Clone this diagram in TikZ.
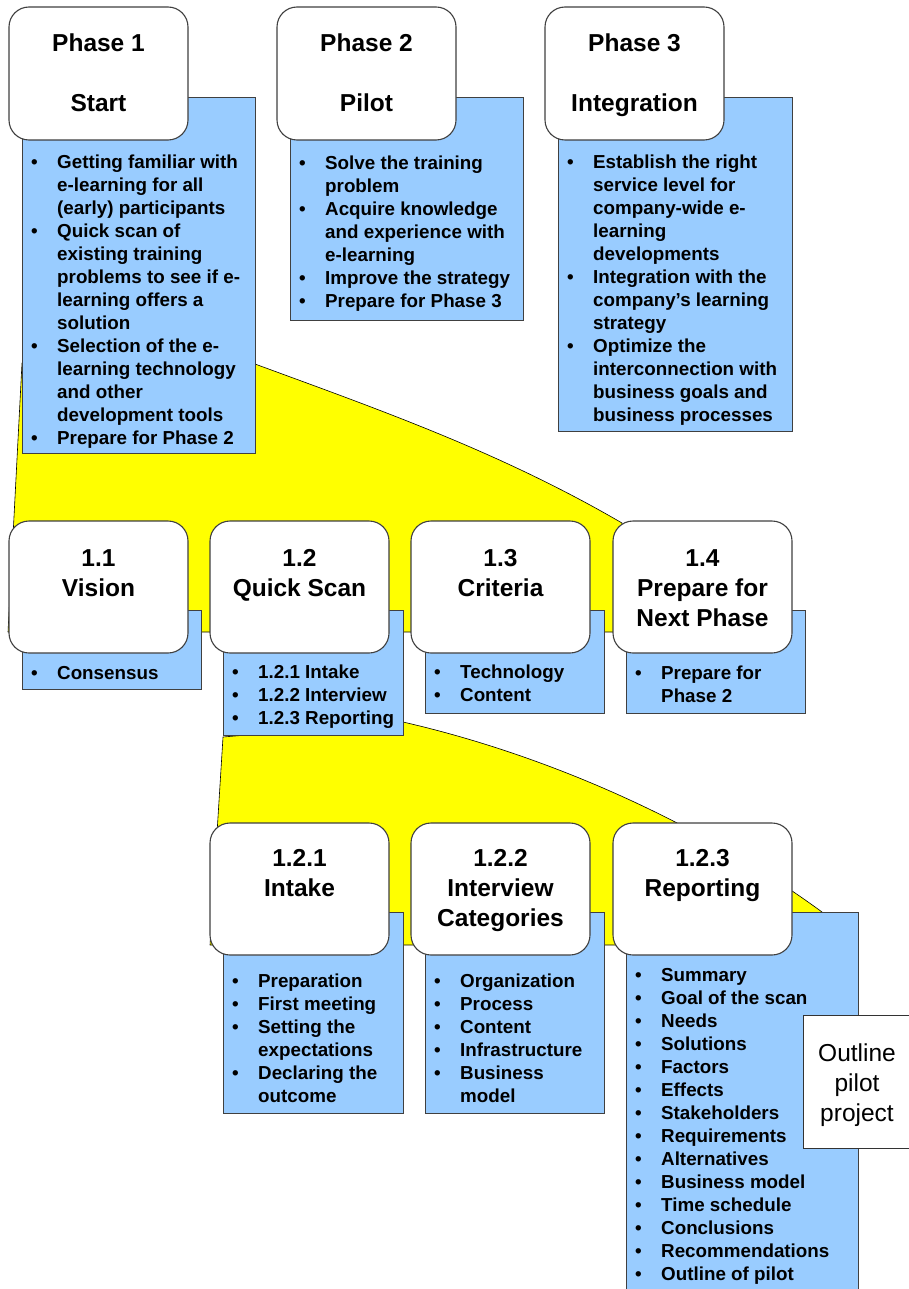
\documentclass[tikz,border=0pt]{standalone}
\usepackage{fontspec}
\setmainfont{Liberation Sans}
\definecolor{skyblue}{HTML}{99CCFF}
\definecolor{zoomyellow}{HTML}{FFFF00}
% bullet and continuation-line indents for the item lists
\newcommand\itm{\makebox[26pt][l]{\textbullet}}
\newcommand\cnt{\hspace*{26pt}}
\begin{document}
% multi-line text nodes are placed by the baseline of their last line
\begin{tikzpicture}[x=1pt,y=-1pt,
  zoomfill/.style={fill=zoomyellow, draw=black, line width=0.6pt, line join=round},
  bluebox/.style={rectangle, fill=skyblue, draw=black!75, line width=1.1pt, anchor=north west, inner sep=0pt},
  stagebox/.style={rectangle, rounded corners=20pt, fill=white, draw=black!75, line width=1.1pt,
    minimum width=179pt, minimum height=133pt, inner sep=0pt},
  title/.style={anchor=base, align=center, inner sep=0pt, font=\bfseries\fontsize{24.5}{30}\selectfont},
  items/.style={anchor=base west, align=left, inner sep=0pt, font=\bfseries\fontsize{18.8}{23}\selectfont},
  notebox/.style={rectangle, fill=white, draw=black!80, line width=1.1pt, anchor=north west, inner sep=0pt}
]
\useasboundingbox (0,0) rectangle (908,1289);

% zoom-out wedges
\path[zoomfill] (22,363) -- (8,632) -- (622,632) -- (622,523)
  .. controls (500,452) and (380,410) .. (255,364) -- cycle;
\path[zoomfill] (223,737) -- (210,945) -- (822,945) -- (822,912)
  .. controls (710,830) and (560,758) .. (403,722) -- cycle;

% detail panels
\node[bluebox, minimum width=233pt, minimum height=356pt] (b1) at (22,97) {};
\node[bluebox, minimum width=233pt, minimum height=223pt] (b2) at (290,97) {};
\node[bluebox, minimum width=234pt, minimum height=334pt] (b3) at (558,97) {};
\node[bluebox, minimum width=179pt, minimum height=79pt] (b11) at (22,610) {};
\node[bluebox, minimum width=180pt, minimum height=125pt] (b12) at (223,610) {};
\node[bluebox, minimum width=179pt, minimum height=103pt] (b13) at (425,610) {};
\node[bluebox, minimum width=179pt, minimum height=103pt] (b14) at (626,610) {};
\node[bluebox, minimum width=180pt, minimum height=201pt] (b121) at (223,912) {};
\node[bluebox, minimum width=179pt, minimum height=201pt] (b122) at (425,912) {};
\node[bluebox, minimum width=232pt, minimum height=390pt] (b123) at (626,912) {};

% stage boxes
\node[stagebox] (p1) at (98.5,73.5) {};
\node[stagebox] (p2) at (366.5,73.5) {};
\node[stagebox] (p3) at (634.5,73.5) {};
\node[stagebox, minimum height=132pt] (s11) at (98.5,587) {};
\node[stagebox, minimum height=132pt] (s12) at (299.5,587) {};
\node[stagebox, minimum height=132pt] (s13) at (500.5,587) {};
\node[stagebox, minimum height=132pt] (s14) at (702.5,587) {};
\node[stagebox, minimum height=132pt] (s121) at (299.5,889) {};
\node[stagebox, minimum height=132pt] (s122) at (500.5,889) {};
\node[stagebox, minimum height=132pt] (s123) at (702.5,889) {};

% stage titles
\node[title] (p1t) at (98.5,112) {Phase 1\\[30pt]Start};
\node[title] (p2t) at (366.5,112) {Phase 2\\[30pt]Pilot};
\node[title] (p3t) at (634.5,112) {Phase 3\\[30pt]Integration};
\node[title] (s11t) at (98.5,596) {1.1\\Vision};
\node[title] (s12t) at (299.5,596) {1.2\\Quick Scan};
\node[title] (s13t) at (500.5,596) {1.3\\Criteria};
\node[title] (s14t) at (702.5,626) {1.4\\Prepare for\\Next Phase};
\node[title] (s121t) at (299.5,896) {1.2.1\\Intake};
\node[title] (s122t) at (500.5,926) {1.2.2\\Interview\\Categories};
\node[title] (s123t) at (702.5,896) {1.2.3\\Reporting};

% item lists
\node[items] (b1i) at (31,444) {\itm Getting familiar with\\\cnt e-learning for all\\\cnt (early) participants\\
  \itm Quick scan of\\\cnt existing training\\\cnt problems to see if e-\\\cnt learning offers a\\\cnt solution\\
  \itm Selection of the e-\\\cnt learning technology\\\cnt and other\\\cnt development tools\\
  \itm Prepare for Phase 2};
\node[items] (b2i) at (299,307) {\itm Solve the training\\\cnt problem\\
  \itm Acquire knowledge\\\cnt and experience with\\\cnt e-learning\\
  \itm Improve the strategy\\
  \itm Prepare for Phase 3};
\node[items] (b3i) at (567,421) {\itm Establish the right\\\cnt service level for\\\cnt company-wide e-\\\cnt learning\\\cnt developments\\
  \itm Integration with the\\\cnt company’s learning\\\cnt strategy\\
  \itm Optimize the\\\cnt interconnection with\\\cnt business goals and\\\cnt business processes};
\node[items] (b11i) at (31,679) {\itm Consensus};
\node[items] (b12i) at (232,724) {\itm 1.2.1 Intake\\\itm 1.2.2 Interview\\\itm 1.2.3 Reporting};
\node[items] (b13i) at (434,701) {\itm Technology\\\itm Content};
\node[items] (b14i) at (635,702) {\itm Prepare for\\\cnt Phase 2};
\node[items] (b121i) at (232,1102) {\itm Preparation\\\itm First meeting\\\itm Setting the\\\cnt expectations\\
  \itm Declaring the\\\cnt outcome};
\node[items] (b122i) at (434,1102) {\itm Organization\\\itm Process\\\itm Content\\\itm Infrastructure\\
  \itm Business\\\cnt model};
\node[items] (b123i) at (635,1280) {\itm Summary\\\itm Goal of the scan\\\itm Needs\\\itm Solutions\\\itm Factors\\
  \itm Effects\\\itm Stakeholders\\\itm Requirements\\\itm Alternatives\\\itm Business model\\
  \itm Time schedule\\\itm Conclusions\\\itm Recommendations\\\itm Outline of pilot};

% side note
\node[notebox, minimum width=115pt, minimum height=133pt] (note) at (803,1015) {};
\node[anchor=base, align=center, inner sep=0pt, font=\fontsize{24.5}{30}\selectfont] (notet) at (857,1121)
  {Outline\\pilot\\project};
\end{tikzpicture}
\end{document}
